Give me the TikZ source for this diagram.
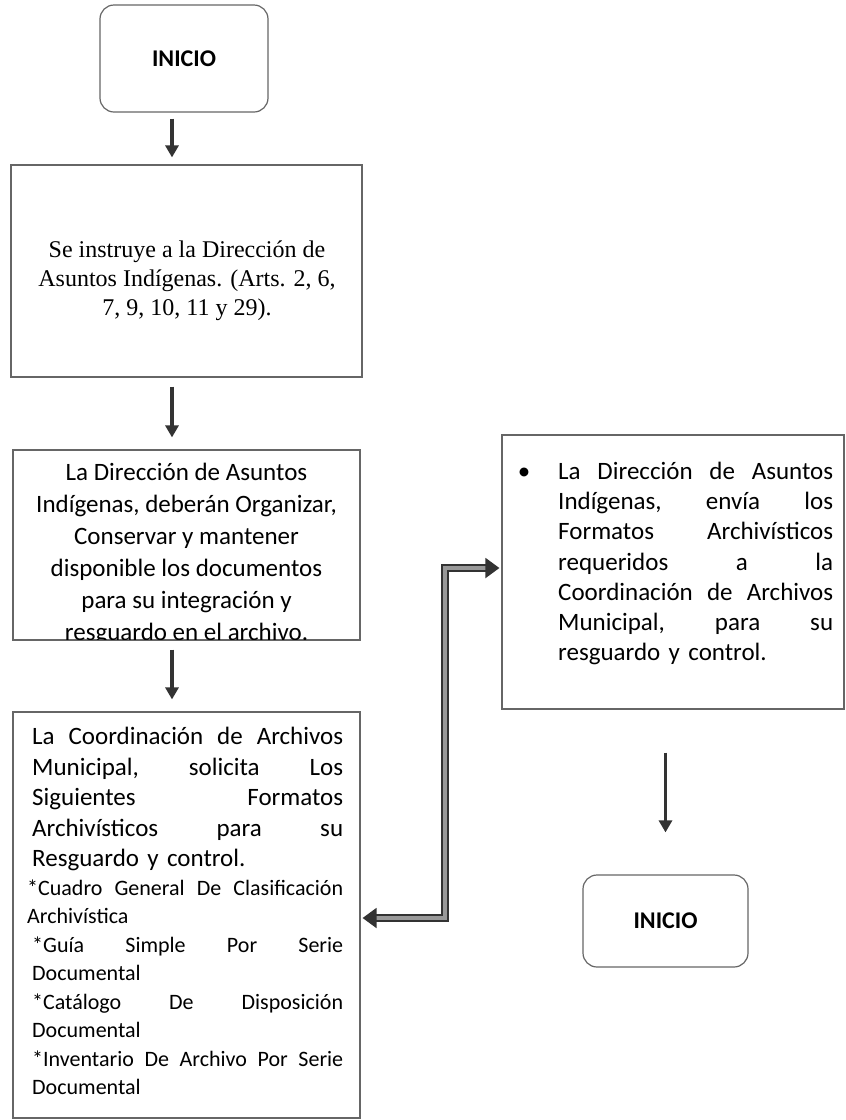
\documentclass[tikz,border=0pt]{standalone}
\usepackage{fontspec}
\setmainfont{Carlito}
\newfontfamily\timesf{Liberation Serif}
\usetikzlibrary{arrows.meta,calc}
\setlength{\parindent}{0pt}
\newcommand\jl[2]{\leavevmode\hbox to #1{#2}\par}
\begin{document}
\begin{tikzpicture}[x=1pt,y=-1pt,
  box/.style={draw=black!60, line width=1.2pt, inner sep=0pt},
  rbox/.style={box, rounded corners=14pt},
  flow/.style={draw=black!80, line width=3.5pt, -{Triangle[length=12pt,width=13pt]}},
  link/.style={draw=black!80, line width=2pt, double=black!40, double distance=3.5pt,
     {Triangle[length=14pt,width=20pt]}-{Triangle[length=14pt,width=20pt]}},
  body/.style={font=\fontsize{25}{30.5}\selectfont, inner sep=0pt}]
\useasboundingbox (0,0) rectangle (846,1120);
\fill[white] (0,0) rectangle (846,1120);

% boxes
\node[rbox, minimum width=168pt, minimum height=107pt, font=\fontsize{24}{28}\selectfont\bfseries] (inicio1) at (184,58.5) {INICIO};
\node[box, minimum width=351pt, minimum height=212pt] (b2) at (186.5,271) {};
\node[box, minimum width=347pt, minimum height=190pt] (b3) at (186.5,545) {};
\node[box, minimum width=347pt, minimum height=406pt] (b4) at (186.5,915) {};
\node[box, minimum width=342pt, minimum height=274pt] (b5) at (673,572) {};
\node[rbox, minimum width=165pt, minimum height=92pt, font=\fontsize{24}{28}\selectfont\bfseries] (inicio2) at (665.5,921) {INICIO};

% texts
\node[font=\timesf\fontsize{24}{28.7}\selectfont, align=center, anchor=north, inner sep=0pt] (t2) at (187,241)
  {Se instruye a la Dirección de\\Asuntos Indígenas. (Arts. 2, 6,\\7, 9, 10, 11 y 29).};

\begin{scope}
\clip (b3.north west) rectangle (b3.south east);
\node[body, font=\fontsize{25}{32}\selectfont, align=center, anchor=north] (t3) at (186.5,463)
  {La Dirección de Asuntos\\Indígenas, deberán Organizar,\\Conservar y mantener\\disponible los documentos\\para su integración y\\resguardo en el archivo.};
\end{scope}
\draw[box] (b3.south west) -- (b3.south east);

\node[body, text width=316pt, anchor=north west] (t4) at (27,727)
  {\hspace*{5pt}\hbox to 311pt{La\hfill Coordinación\hfill de\hfill Archivos}\par
   \hspace*{5pt}\hbox to 311pt{Municipal,\hfill solicita\hfill Los}\par
   \hspace*{5pt}\hbox to 311pt{Siguientes\hfill Formatos}\par
   \hspace*{5pt}\hbox to 311pt{Archivísticos\hfill para\hfill su}\par
   \hspace*{5pt}Resguardo y control.\par
   \fontsize{22}{28.5}\selectfont
   \jl{316pt}{*Cuadro\hfill General\hfill De\hfill Clasificación}
   Archivística\par
   \hspace*{5pt}\hbox to 311pt{*Guía\hfill Simple\hfill Por\hfill Serie}\par
   \hspace*{5pt}Documental\par
   \hspace*{5pt}\hbox to 311pt{*Catálogo\hfill De\hfill Disposición}\par
   \hspace*{5pt}Documental\par
   \hspace*{5pt}\hbox to 311pt{*Inventario\hfill De\hfill Archivo\hfill Por\hfill Serie}\par
   \hspace*{5pt}Documental\par};

\node[body, font=\fontsize{25}{30.2}\selectfont, text width=275pt, anchor=north west] (t5) at (558,462)
  {\makebox[0pt][r]{\textbullet\hspace{28pt}}\hbox to 275pt{La\hfill Dirección\hfill de\hfill Asuntos}\par
   \jl{275pt}{Indígenas,\hfill envía\hfill los}
   \jl{275pt}{Formatos\hfill Archivísticos}
   \jl{275pt}{requeridos\hfill a\hfill la}
   \jl{275pt}{Coordinación\hfill de\hfill Archivos}
   \jl{275pt}{Municipal,\hfill para\hfill su}
   resguardo y control.\par};

% arrows
\coordinate (ax) at (172,0);
\draw[flow, shorten <=6pt, shorten >=7pt] (inicio1.south -| ax) -- (b2.north -| ax);
\draw[flow, shorten <=9pt, shorten >=12pt] (b2.south -| ax) -- (b3.north -| ax);
\draw[flow, shorten <=9pt, shorten >=12pt] (b3.south -| ax) -- (b4.north -| ax);
\draw[flow, shorten <=43pt, shorten >=42pt] (b5.south -| inicio2.north) -- (inicio2.north);

% two-way connector
\coordinate (jb) at (445,918);
\coordinate (jt) at (445,568);
\draw[link, shorten <=2pt, shorten >=2pt] (jb -| b4.east) -- (jb) -- (jt) -- (jt -| b5.west);
\end{tikzpicture}
\end{document}
